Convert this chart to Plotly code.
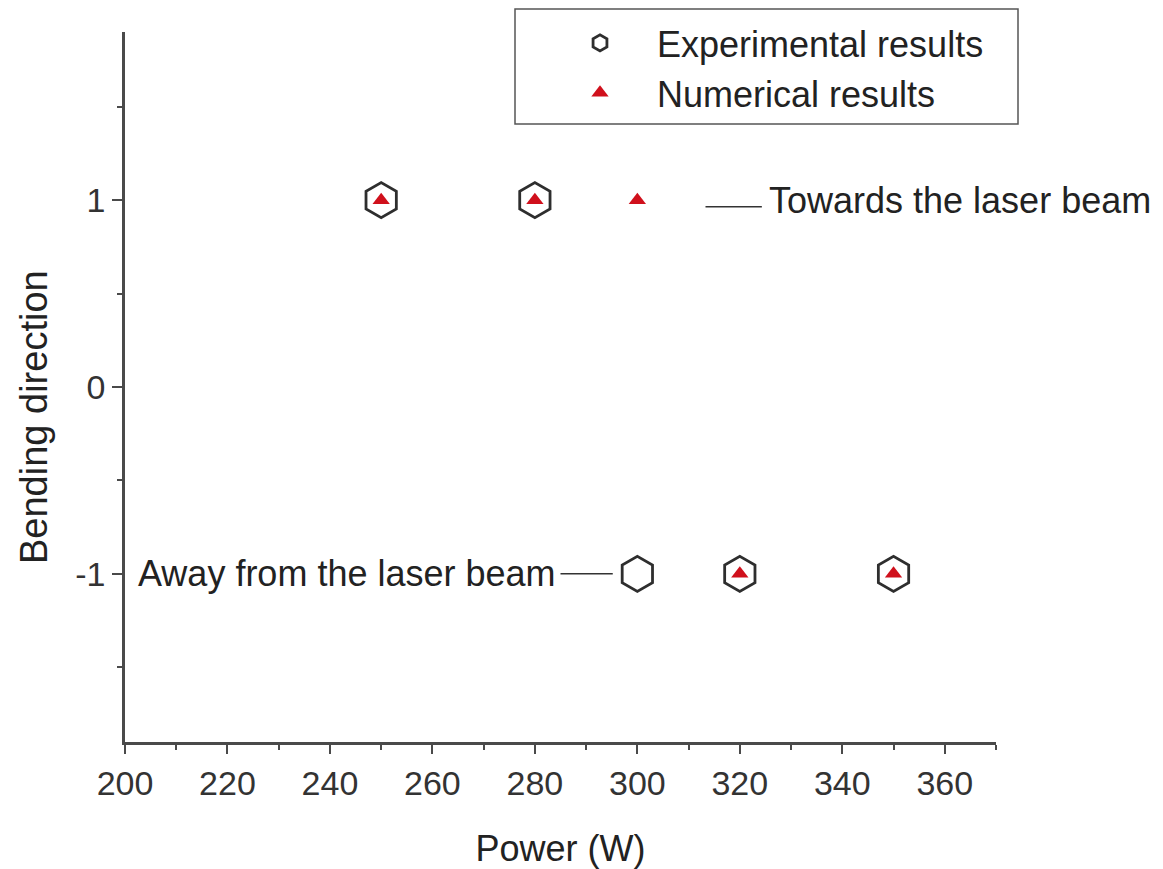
import plotly.graph_objects as go

# Data
power_exp = [250, 280, 300, 320, 350]
dir_exp = [1, 1, -1, -1, -1]
power_num = [250, 280, 300, 320, 350]
dir_num = [1, 1, 1, -1, -1]

x_ticks = [200, 220, 240, 260, 280, 300, 320, 340, 360]
y_ticks = [-1, 0, 1]
y_ticklabels = ["-1", "0", "1"]

FONT = "Liberation Sans, Arial, sans-serif"
AX = "#4a4a4a"
TXT = "#222222"
RED = "#d0101c"

fig = go.Figure()
fig.add_trace(go.Scatter(
    x=power_exp, y=dir_exp, mode="markers", name="Experimental results",
    marker=dict(symbol="hexagon-open", size=35, color="#2e2e2e",
                line=dict(width=2.8, color="#2e2e2e")),
))
fig.add_trace(go.Scatter(
    x=power_num, y=dir_num, mode="markers", name="Numerical results",
    marker=dict(symbol="triangle-up", size=15, color=RED),
))

# annotation leader lines and texts
fig.add_shape(type="line", x0=313.3, x1=324.3, y0=0.965, y1=0.965,
              line=dict(color="#333333", width=1.5))
fig.add_annotation(x=325.3, y=1, text="Towards the laser beam", showarrow=False,
                   xanchor="left", yanchor="middle",
                   font=dict(family=FONT, size=36, color=TXT))
fig.add_shape(type="line", x0=285.0, x1=295.2, y0=-1, y1=-1,
              line=dict(color="#333333", width=1.5))
fig.add_annotation(x=284.6, y=-1, text="Away from the laser beam", showarrow=False,
                   xanchor="right", yanchor="middle",
                   font=dict(family=FONT, size=36, color=TXT))

# y axis title (placed as in the reference, slightly below centre)
fig.add_annotation(xref="paper", yref="paper", x=(34 - 125) / 871, y=(742 - 417) / 710,
                   text="Bending direction", textangle=-90, showarrow=False,
                   xanchor="center", yanchor="middle",
                   font=dict(family=FONT, size=38, color=TXT))

# legend frame
fig.add_shape(type="rect", xref="paper", yref="paper",
              x0=(515 - 125) / 871, x1=(1018 - 125) / 871,
              y0=(742 - 124) / 710, y1=(742 - 9) / 710,
              line=dict(color="#555555", width=1.5), fillcolor="rgba(0,0,0,0)")

fig.update_layout(
    width=1163, height=869,
    margin=dict(l=125, r=167, t=32, b=127, autoexpand=False),
    paper_bgcolor="white", plot_bgcolor="white",
    font=dict(family=FONT, color=TXT, size=35),
    showlegend=True,
    legend=dict(x=(543 - 125) / 871, y=(742 - 13) / 710, xanchor="left", yanchor="top",
                bgcolor="rgba(0,0,0,0)", borderwidth=0, itemwidth=104,
                font=dict(family=FONT, size=36, color=TXT)),
    xaxis=dict(range=[200, 370], tickvals=x_ticks, ticks="outside", ticklen=9,
               tickwidth=2, tickcolor=AX, showline=True, linecolor=AX, linewidth=2.5,
               showgrid=False, zeroline=False, automargin=False,
               tickfont=dict(family=FONT, size=34, color="#333333"),
               minor=dict(dtick=10, tick0=200, ticks="outside", ticklen=5, tickwidth=2, tickcolor=AX),
               title=dict(text="Power (W)", standoff=38,
                          font=dict(family=FONT, size=36, color=TXT))),
    yaxis=dict(range=[-1.9, 1.9], tickvals=y_ticks, ticktext=y_ticklabels,
               ticks="outside", ticklen=10, tickwidth=2, tickcolor=AX,
               showline=True, linecolor=AX, linewidth=2.5,
               showgrid=False, zeroline=False, automargin=False,
               tickfont=dict(family=FONT, size=34, color="#333333"),
               minor=dict(dtick=0.5, tick0=0, ticks="outside", ticklen=5, tickwidth=2, tickcolor=AX)),
)

fig.write_html("out.html")
